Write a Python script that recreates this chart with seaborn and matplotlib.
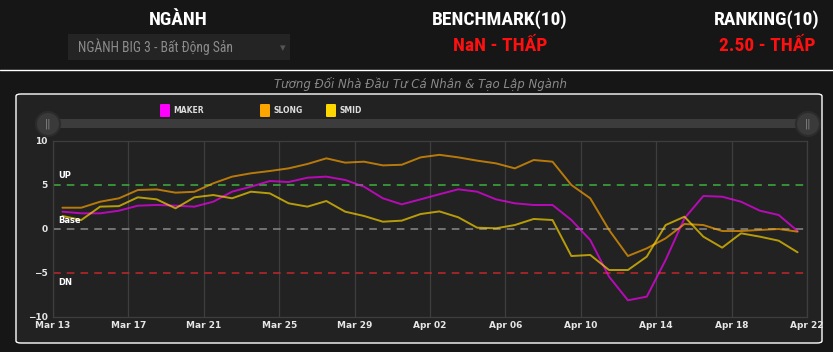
import matplotlib
matplotlib.use("Agg")
import matplotlib.pyplot as plt
import matplotlib.dates as mdates
from matplotlib.patches import FancyBboxPatch, Ellipse, Rectangle
import pandas as pd
import seaborn as sns

# ---- data ----
start_date = "2024-03-13 12:00"
n_days = 40

maker = [1.97, 1.78, 1.78, 2.08, 2.65, 2.73, 2.65, 2.54, 3.10, 4.24,
         4.81, 5.45, 5.34, 5.83, 5.95, 5.57, 4.81, 3.49, 2.80, 3.37,
         3.95, 4.51, 4.24, 3.37, 2.92, 2.73, 2.73, 1.02, -1.25, -5.42,
         -8.10, -7.69, -3.52, 1.21, 3.75, 3.67, 3.10, 2.08, 1.59, -0.23]
slong = [2.42, 2.42, 3.10, 3.49, 4.43, 4.50, 4.13, 4.23, 5.19, 5.95,
         6.33, 6.59, 6.89, 7.39, 8.03, 7.54, 7.65, 7.23, 7.30, 8.14,
         8.43, 8.14, 7.77, 7.46, 6.89, 7.84, 7.65, 5.00, 3.49, -0.11,
         -3.07, -2.20, -1.06, 0.57, 0.45, -0.23, -0.23, -0.11, 0.00, -0.30]
smid = [1.48, 1.02, 2.54, 2.60, 3.60, 3.37, 2.35, 3.60, 3.86, 3.49,
        4.24, 4.05, 2.92, 2.54, 3.18, 1.97, 1.48, 0.83, 0.95, 1.70,
        2.00, 1.33, 0.15, 0.08, 0.45, 1.14, 1.02, -3.07, -2.95, -4.66,
        -4.66, -3.14, 0.45, 1.40, -0.87, -2.12, -0.49, -0.87, -1.33, -2.65]

series_names = ["MAKER", "SLONG", "SMID"]
series_colors = ["#ff00ff", "#ffa500", "#ffd700"]

ref_levels = [5, 0, -5]
ref_labels = ["UP", "Base", "DN"]
ref_colors = ["#3fae3f", "#8a8a8a", "#c0282c"]

tick_dates = ["2024-03-13", "2024-03-17", "2024-03-21", "2024-03-25", "2024-03-29",
              "2024-04-02", "2024-04-06", "2024-04-10", "2024-04-14", "2024-04-18",
              "2024-04-22"]

dates = pd.date_range(start_date, periods=n_days, freq="D")
df = pd.concat([
    pd.DataFrame({"date": dates, "value": vals, "series": name})
    for name, vals in zip(series_names, [maker, slong, smid])
])

# ---- figure ----
sns.set_theme(style="dark")
plt.rcParams["font.family"] = ["DejaVu Sans"]

page_bg = "#161616"
card_bg = "#222222"

fig = plt.figure(figsize=(8.33, 3.52), dpi=100, facecolor=page_bg)
W, H = 833, 352


def fx(x):
    return x / W


def fy(y):
    return 1 - y / H


installed = {f.name for f in matplotlib.font_manager.fontManager.ttflist}
narrow = [f for f in ["Liberation Sans Narrow", "Roboto Condensed", "DejaVu Sans Condensed"]
          if f in installed] + ["DejaVu Sans"]

# header
head_kw = dict(color="white", fontsize=14, fontweight="bold", ha="center", va="center",
               family=narrow)
fig.text(fx(178), fy(20), "NGÀNH", **head_kw)
fig.text(fx(500), fy(20), "BENCHMARK(10)", **head_kw)
fig.text(fx(767), fy(20), "RANKING(10)", **head_kw)
red_kw = dict(head_kw, color="#ff1010")
fig.text(fx(500), fy(46), "NaN - THẤP", **red_kw)
fig.text(fx(767), fy(46), "2.50 - THẤP", **red_kw)

# dropdown box
fig.patches.append(Rectangle((fx(68), fy(60)), fx(222), 26 / H, transform=fig.transFigure,
                             facecolor="#242424", edgecolor="none", zorder=-1))
fig.text(fx(78), fy(47), "NGÀNH BIG 3 - Bất Động Sản", color="#8c8c8c", fontsize=9.8,
         ha="left", va="center", family=narrow)
fig.text(fx(283), fy(48), "▾", color="#555555", fontsize=8, ha="center", va="center")

# separator line
fig.add_artist(plt.Line2D([0, 1], [fy(70), fy(70)], transform=fig.transFigure,
                          color="white", linewidth=1))

# subtitle
fig.text(fx(420), fy(84), "Tương Đối Nhà Đầu Tư Cá Nhân & Tạo Lập Ngành", color="#8a8a8a",
         fontsize=8.5, style="italic", ha="center", va="center")

# card
fig.patches.append(FancyBboxPatch((fx(16), fy(343)), fx(806), (343 - 94) / H,
                                  boxstyle="round,pad=0,rounding_size=0.006",
                                  transform=fig.transFigure, facecolor=card_bg,
                                  edgecolor="white", linewidth=1, zorder=-2))

# legend
leg_x = [160, 260, 326]
for (lx, name, col) in zip(leg_x, series_names, series_colors):
    fig.patches.append(FancyBboxPatch((fx(lx), fy(117)), fx(10), 13 / H,
                                      boxstyle="round,pad=0,rounding_size=0.002",
                                      transform=fig.transFigure, facecolor=col,
                                      edgecolor="none", zorder=2))
    fig.text(fx(lx + 13), fy(110.5), name, color="#dddddd", fontsize=5.5, fontweight="bold",
             ha="left", va="center")

# slider
fig.patches.append(Rectangle((fx(53), fy(128)), fx(755), 9 / H, transform=fig.transFigure,
                             facecolor="#3c3c3c", edgecolor="none", zorder=1))
for hx in [48, 808]:
    fig.patches.append(Ellipse((fx(hx), fy(124)), 24 / W, 24 / H, transform=fig.transFigure,
                               facecolor="#3a3a3a", edgecolor="#2c2c2c", linewidth=1.5,
                               zorder=2))
    fig.text(fx(hx), fy(124), "||", color="#8a8a8a", fontsize=7, ha="center", va="center",
             zorder=3)

# plot area
ax = fig.add_axes([fx(53), fy(317), fx(754), (317 - 141) / H])
ax.set_zorder(1)
ax.set_facecolor(card_bg)

sns.lineplot(data=df, x="date", y="value", hue="series", palette=series_colors,
             hue_order=series_names, alpha=0.68, linewidth=1.4, legend=False, ax=ax)

for lvl, col in zip(ref_levels, ref_colors):
    ax.axhline(lvl, color=col, linestyle=(0, (5, 4)), linewidth=1.1, zorder=1)
trans = ax.get_yaxis_transform()
ax.text(0.007, 5.6, ref_labels[0], color="white", fontsize=6, fontweight="bold",
        transform=trans, va="bottom")
ax.text(0.007, 0.5, ref_labels[1], color="white", fontsize=6, fontweight="bold",
        transform=trans, va="bottom")
ax.text(0.007, -5.6, ref_labels[2], color="white", fontsize=6, fontweight="bold",
        transform=trans, va="top")

ax.set_ylim(-10, 10)
ax.set_yticks([10, 5, 0, -5, -10])
ax.set_xlim(pd.Timestamp(tick_dates[0]), pd.Timestamp(tick_dates[-1]))
ax.set_xticks(pd.to_datetime(tick_dates))
ax.xaxis.set_major_formatter(mdates.DateFormatter("%b %d"))

ax.grid(axis="x", color="#3e3e3e", linewidth=0.9)
ax.grid(axis="y", visible=False)
ax.set_xlabel("")
ax.set_ylabel("")
ax.tick_params(axis="x", length=0, labelsize=6.5, colors="#e6e6e6", pad=3)
ax.tick_params(axis="y", length=0, labelsize=6.5, colors="#e6e6e6", pad=4)
for lbl in ax.get_xticklabels() + ax.get_yticklabels():
    lbl.set_fontweight("bold")
for side in ["top", "left", "bottom", "right"]:
    ax.spines[side].set_visible(True)
    ax.spines[side].set_color("#3e3e3e")
    ax.spines[side].set_linewidth(0.9)

fig.savefig("out.png", dpi=100, facecolor=page_bg)
